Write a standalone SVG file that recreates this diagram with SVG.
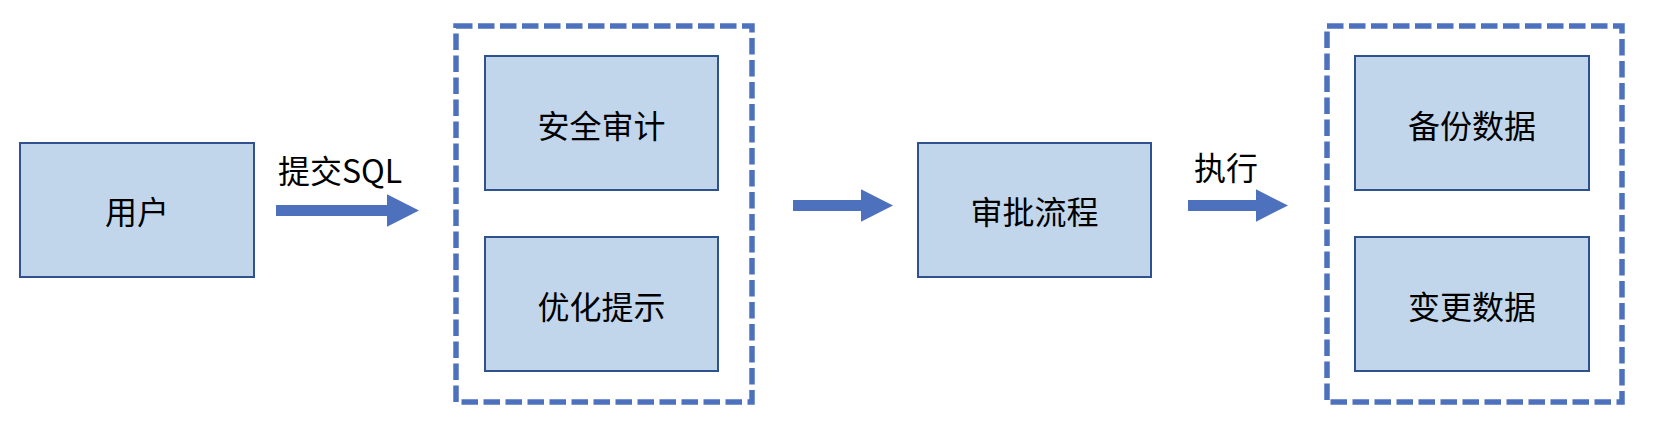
<svg xmlns="http://www.w3.org/2000/svg" width="1666" height="448" viewBox="0 0 1666 448">
<style>
.box{fill:#C2D6EB;stroke:#2F528F;stroke-width:2}
.grp{fill:none;stroke:#4E71BE;stroke-width:5.5;stroke-dasharray:16.5 5.5}
.arr{fill:#4E71BE;stroke:none}
text{font-family:"Noto Sans CJK SC","Noto Sans",sans-serif;font-size:32px;fill:#000}
.c{text-anchor:middle;dominant-baseline:central}
</style>
<rect width="1666" height="448" fill="#fff"/>
<g id="group-check"><rect class="grp" x="456" y="26" width="296" height="376"/></g>
<g id="group-exec"><rect class="grp" x="1327" y="26" width="295" height="376"/></g>
<g id="node-user"><rect class="box" x="20" y="143" width="234" height="134"/><text class="c" x="137" y="210">用户</text></g>
<g id="node-audit"><rect class="box" x="485" y="56" width="233" height="134"/><text class="c" x="601.5" y="124">安全审计</text></g>
<g id="node-optimize"><rect class="box" x="485" y="237" width="233" height="134"/><text class="c" x="601.5" y="305">优化提示</text></g>
<g id="node-approve"><rect class="box" x="918" y="143" width="233" height="134"/><text class="c" x="1034.5" y="210">审批流程</text></g>
<g id="node-backup"><rect class="box" x="1355" y="56" width="234" height="134"/><text class="c" x="1472" y="124">备份数据</text></g>
<g id="node-change"><rect class="box" x="1355" y="237" width="234" height="134"/><text class="c" x="1472" y="305">变更数据</text></g>
<g id="connectors">
<polygon class="arr" points="276,205 387,205 387,194.3 419,210.5 387,226.7 387,216 276,216"/>
<text class="c" x="340" y="169">提交SQL</text>
<polygon class="arr" points="793,200 861,200 861,189.3 893,205.5 861,221.7 861,211 793,211"/>
<polygon class="arr" points="1188,200 1256,200 1256,189.3 1288,205.5 1256,221.7 1256,211 1188,211"/>
<text class="c" x="1226" y="165.5">执行</text>
</g>
</svg>
